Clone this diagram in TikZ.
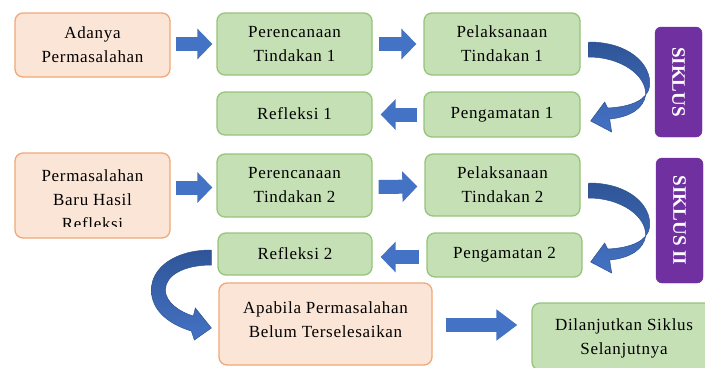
\documentclass[tikz,border=0pt]{standalone}
\usepackage{fontspec}
\setmainfont{Liberation Serif}[LetterSpace=4]
\newfontfamily\sikfam{Liberation Serif}
\usetikzlibrary{arrows.meta}
\definecolor{peachfill}{HTML}{FBE5D6}
\definecolor{peachline}{HTML}{F0A878}
\definecolor{greenfill}{HTML}{C5E0B4}
\definecolor{greenline}{HTML}{96C47A}
\definecolor{purp}{HTML}{7030A0}
\definecolor{arrlight}{HTML}{4472C4}
\definecolor{arrdark}{HTML}{2F5597}
\definecolor{arrline}{HTML}{2F528F}
\newcommand\boxfont{\fontsize{17bp}{24bp}\selectfont}
\newcommand\sikfont{\sikfam\fontsize{19bp}{22bp}\selectfont\bfseries}
\tikzset{
  basebox/.style={rounded corners=8bp, line width=1.3bp, align=center, inner sep=0pt, font=\boxfont},
  pbox/.style={basebox, fill=peachfill, draw=peachline},
  gbox/.style={basebox, fill=greenfill, draw=greenline},
  sikbox/.style={rounded corners=6bp, fill=purp, draw=purp, text=white, font=\sikfont, inner sep=0pt, rotate=-90},
  txt/.style={align=center, inner sep=0pt, font=\boxfont},
  blockarrow/.style={line width=14bp, draw=arrlight, -{Triangle[length=#1,width=30bp]}},
  blockarrow/.default=15bp,
  curvearrow/.style={top color=arrdark, bottom color=arrlight, draw=arrline, line width=0.5bp}
}
\begin{document}
\begin{tikzpicture}[x=1bp,y=-1bp]
\useasboundingbox (0,0) rectangle (705,367);
\clip (0,0) rectangle (705,367);
\fill[white] (0,0) rectangle (705,367);

% row 1
\node[pbox, minimum width=155bp, minimum height=64bp] (adanya) at (92.5,45) {Adanya\\Permasalahan};
\node[gbox, minimum width=155bp, minimum height=62bp] (per1) at (294.5,44) {Perencanaan\\Tindakan 1};
\node[gbox, minimum width=156bp, minimum height=62bp] (pel1) at (502,44) {Pelaksanaan\\Tindakan 1};
\node[gbox, minimum width=155bp, minimum height=43bp] (ref1) at (294.5,113.5) {Refleksi 1};
\node[gbox, minimum width=156bp, minimum height=45bp] (pen1) at (502,114.5) {Pengamatan 1};
\node[sikbox, minimum width=110bp, minimum height=47bp] (sik1) at (678.5,82) {SIKLUS};

% row 2
\node[pbox, minimum width=155bp, minimum height=85bp] (perm2) at (92.5,195.5) {};
\begin{scope}
  \clip (15,150) rectangle (170,226);
  \node[txt] (perm2txt) at (92.5,200) {Permasalahan\\Baru Hasil\\Refleksi};
\end{scope}
\node[gbox, minimum width=155bp, minimum height=63bp] (per2) at (294.5,185.5) {Perencanaan\\Tindakan 2};
\node[gbox, minimum width=155bp, minimum height=62bp] (pel2) at (502.5,185) {Pelaksanaan\\Tindakan 2};
\node[gbox, minimum width=154bp, minimum height=42bp] (ref2) at (295,254) {Refleksi 2};
\node[gbox, minimum width=155bp, minimum height=44bp] (pen2) at (504.5,255) {Pengamatan 2};
\node[sikbox, minimum width=125bp, minimum height=47bp] (sik2) at (679.5,220.5) {SIKLUS II};

% row 3
\node[pbox, minimum width=213bp, minimum height=82bp] (apa) at (325.5,324) {};
\node[txt] (apatxt) at (325.5,320) {Apabila Permasalahan\\Belum Terselesaikan};
\node[gbox, minimum width=184bp, minimum height=67bp] (lanj) at (624,336.5) {};
\begin{scope}
  \clip (532,300) rectangle (716,357);
  \node[txt] (lanjtxt) at (624,338) {Dilanjutkan Siklus\\Selanjutnya};
\end{scope}

% straight block arrows
\draw[blockarrow] ([xshift=5bp]adanya.east |- per1.west) -- ([xshift=-4bp]per1.west);
\draw[blockarrow] ([xshift=6bp]per1.east) -- ([xshift=-7bp]pel1.west);
\draw[blockarrow] ([xshift=-6bp]pen1.west) -- ([xshift=8bp]ref1.east |- pen1.west);
\draw[blockarrow] ([xshift=5bp,yshift=-2bp]perm2.east |- per2.west) -- ([xshift=-4bp,yshift=-2bp]per2.west);
\draw[blockarrow] ([xshift=6bp,yshift=-1.5bp]per2.east) -- ([xshift=-7bp,yshift=-1.5bp]pel2.west);
\draw[blockarrow] ([xshift=-7bp,yshift=-2bp]pen2.west) -- ([xshift=8bp,yshift=-2bp]ref2.east |- pen2.west);
\draw[blockarrow=21bp] ([xshift=13bp]apa.east |- 0,325) coordinate (a0) -- ([xshift=-14bp]lanj.west |- a0);

% curved arrows
\begin{scope}[shift={(pel1.east)}]
  \shadedraw[curvearrow] (8,-2) .. controls (48,-2) and (71,20) .. (69,42) .. controls (67,56) and (50,63) .. (27,64) -- (24,58) -- (10,77) -- (31,88) -- (29,75) .. controls (50,73) and (63,64) .. (65,51) .. controls (66,31) and (40,13) .. (8,13) -- cycle;
\end{scope}
\begin{scope}[shift={(pel2.east)}]
  \shadedraw[curvearrow] (8,-2) .. controls (48,-2) and (71,20) .. (69,42) .. controls (67,56) and (50,63) .. (27,64) -- (24,58) -- (10,77) -- (31,88) -- (29,75) .. controls (50,73) and (63,64) .. (65,51) .. controls (66,31) and (40,13) .. (8,13) -- cycle;
\end{scope}
\begin{scope}[shift={(ref2.west)}]
  \shadedraw[curvearrow] (-6,-4) .. controls (-43,-4) and (-66,14) .. (-66,36) .. controls (-66,58) and (-46,71) .. (-26,77) -- (-23,86) -- (-6,74) -- (-22,54) -- (-24,62) .. controls (-38,58) and (-52,48) .. (-52,36) .. controls (-52,21) and (-33,11) .. (-6,11) -- cycle;
\end{scope}
\end{tikzpicture}
\end{document}
